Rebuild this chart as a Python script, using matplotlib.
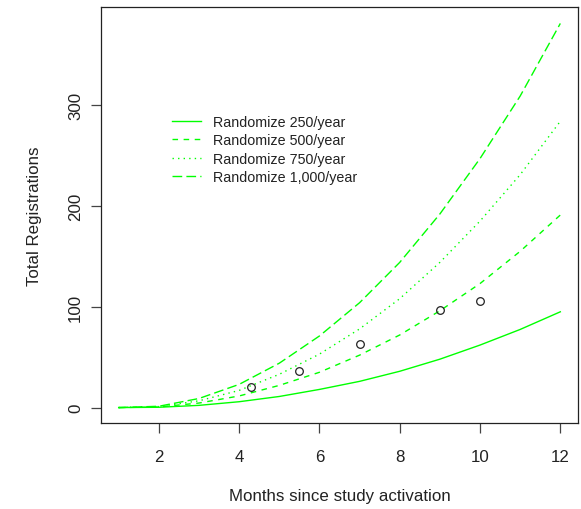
import matplotlib
matplotlib.use("Agg")
import matplotlib.pyplot as plt

plt.rcParams['font.family'] = ['Liberation Sans', 'DejaVu Sans']

months = [1, 2, 3, 4, 5, 6, 7, 8, 9, 10, 11, 12]
rand_250 = [0, 0.3, 2.2, 5.8, 11, 18, 26, 36, 48, 62, 77.5, 95]
rand_500 = [0, 0.6, 4.5, 11.5, 22, 35, 52, 72, 96, 123, 155, 191]
rand_750 = [0, 1.0, 6.7, 17, 33, 53, 78, 108, 144, 185, 231, 284]
rand_1000 = [0, 1.3, 9, 23, 44, 71, 104, 144, 192, 247, 309, 381]

obs_months = [4.3, 5.5, 7, 9, 10]
obs_regs = [20, 36, 63, 97, 106]

labels = ["Randomize 250/year", "Randomize 500/year",
          "Randomize 750/year", "Randomize 1,000/year"]
xticks = [2, 4, 6, 8, 10, 12]
yticks = [0, 100, 200, 300]

W, H = 581, 510
fig = plt.figure(figsize=(W / 100, H / 100), dpi=100)
L, R, T, B = 101, 578, 8, 424
ax = fig.add_axes([L / W, 1 - B / H, (R - L) / W, (B - T) / H])

green = "#00ff00"
lw = 1.0
ax.plot(months, rand_250, color=green, lw=lw, linestyle="-", label=labels[0])
ax.plot(months, rand_500, color=green, lw=lw, linestyle=(0, (4, 4)), label=labels[1])
ax.plot(months, rand_750, color=green, lw=lw, linestyle=(0, (1, 3)), label=labels[2])
ax.plot(months, rand_1000, color=green, lw=lw, linestyle=(0, (7, 3)), label=labels[3])

ax.plot(obs_months, obs_regs, linestyle="none", marker="o", markersize=5.5,
        markerfacecolor="none", markeredgecolor="#222222", markeredgewidth=0.9)

ax.set_xlim(0.56, 12.44)
ax.set_ylim(-15.3, 397.3)
ax.set_xticks(xticks)
ax.set_yticks(yticks)
ax.set_yticklabels([str(v) for v in yticks], rotation=90, va="center")

for s in ax.spines.values():
    s.set_color("#222222")
    s.set_linewidth(0.9)

fs = 12.2
ax.tick_params(axis="both", direction="out", length=7.5, width=0.9,
               color="#444444", labelsize=fs, labelcolor="#222222")
ax.tick_params(axis="x", pad=11.5)
ax.tick_params(axis="y", pad=5.5)

ax.set_xlabel("Months since study activation", fontsize=fs, color="#222222", labelpad=17)
ax.set_ylabel("Total Registrations", fontsize=fs, color="#222222", labelpad=19)

leg = ax.legend(loc="upper left", bbox_to_anchor=(172 / W, 1 - 116 / H),
                bbox_transform=fig.transFigure, frameon=False, fontsize=10.3,
                handlelength=2.0, handletextpad=0.85, labelspacing=0.3,
                borderpad=0, borderaxespad=0)
for t in leg.get_texts():
    t.set_color("#222222")

fig.savefig("out.png", dpi=100, facecolor="white")
